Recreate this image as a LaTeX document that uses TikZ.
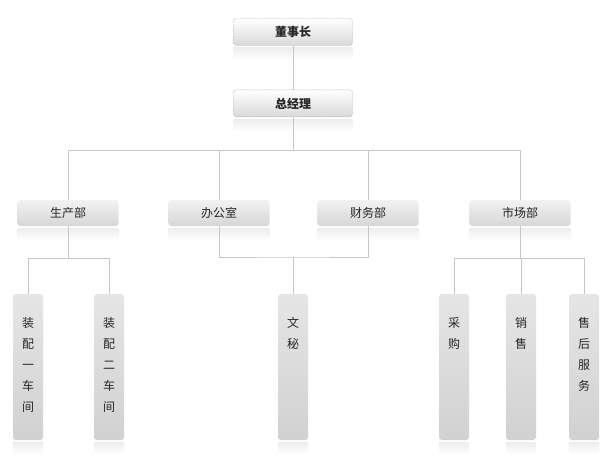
\documentclass[tikz,border=0pt]{standalone}
\usepackage{fontspec}
\setmainfont{Noto Sans CJK SC}
\usetikzlibrary{positioning}

\newcommand{\vlab}[1]{\begin{tabular}[t]{@{}c@{}}#1\end{tabular}}

\tikzset{
  link/.style={draw=gray!45, line width=0.8pt},
  topbox/.style={draw=gray!65, dash pattern=on 2pt off 1pt, rounded corners=3pt,
    top color=white, bottom color=gray!30, minimum width=119pt, minimum height=27pt,
    font=\fontsize{12}{14}\selectfont\bfseries, text=black!85},
  deptbox/.style={rounded corners=3pt, top color=gray!10, bottom color=gray!32,
    minimum width=101pt, minimum height=26pt, font=\fontsize{12}{14}\selectfont, text=black!85},
  unitbox/.style={rounded corners=3pt, top color=gray!20, bottom color=gray!36,
    minimum width=30pt, inner xsep=0pt, inner ysep=0pt,
    text height=33pt, text depth=113pt, font=\fontsize{12}{21}\selectfont, text=black!85},
  shine/.style={top color=gray!14, bottom color=white, draw=none}
}

\begin{document}
\begin{tikzpicture}[x=1pt, y=-1pt]
  \useasboundingbox (0,0) rectangle (609,469);

  \node [topbox] at (293,32) (ceo) {董事长};
  \node [topbox, below=44pt of ceo] (gm) {总经理};

  \node [deptbox] at (68,213) (prod) {生产部};
  \node [deptbox] at (219,213) (office) {办公室};
  \node [deptbox] at (368,213) (fin) {财务部};
  \node [deptbox] at (520,213) (mkt) {市场部};

  \node [unitbox] at (28,367) (asm1) {\vlab{装\\配\\一\\车\\间}};
  \node [unitbox] at (109,367) (asm2) {\vlab{装\\配\\二\\车\\间}};
  \node [unitbox] at (293,367) (sec) {\vlab{文\\秘}};
  \node [unitbox] at (454,367) (buy) {\vlab{采\\购}};
  \node [unitbox] at (521,367) (sale) {\vlab{销\\售}};
  \node [unitbox] at (584,367) (svc) {\vlab{售\\后\\服\\务}};

  % reflections under the boxes
  \foreach \n in {ceo,gm,prod,office,fin,mkt,asm1,asm2,sec,buy,sale,svc}
    \shade [shine] ([yshift=-2pt]\n.south west) rectangle ([yshift=-14pt]\n.south east);

  \draw [link] (ceo) -- (gm);
  \draw [link] (gm.south) -- ++(0,33) -| (prod.north);
  \draw [link] (gm.south) -- ++(0,33) -| (office.north);
  \draw [link] (gm.south) -- ++(0,33) -| (fin.north);
  \draw [link] (gm.south) -- ++(0,33) -| (mkt.north);

  \draw [link] (prod.south) -- ++(0,32) -| (asm1.north);
  \draw [link] (prod.south) -- ++(0,32) -| (asm2.north);

  \coordinate (join) at (293,257);
  \draw [link] (office.south) |- (join) -| (fin.south);
  \draw [link] (join) -- (sec.north);

  \draw [link] (mkt.south) -- ++(0,32) -| (buy.north);
  \draw [link] (mkt.south) -- ++(0,32) -| (sale.north);
  \draw [link] (mkt.south) -- ++(0,32) -| (svc.north);

\end{tikzpicture}
\end{document}
